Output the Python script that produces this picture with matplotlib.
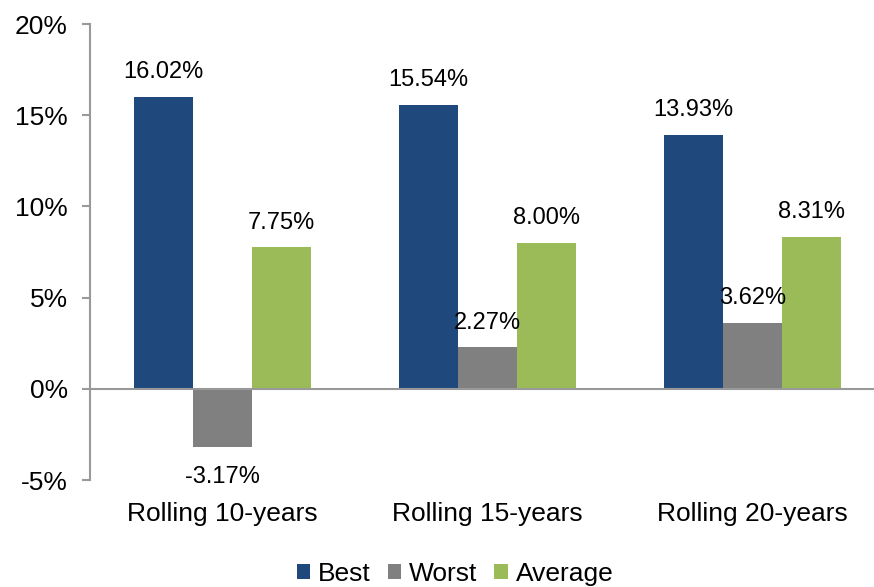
import numpy as np
import matplotlib
matplotlib.use('Agg')
import matplotlib.pyplot as plt

plt.rcParams['font.family'] = ['Liberation Sans', 'DejaVu Sans']

categories = ['Rolling 10-years', 'Rolling 15-years', 'Rolling 20-years']
best = [16.02, 15.54, 13.93]
worst = [-3.17, 2.27, 3.62]
average = [7.75, 8.00, 8.31]
yticks = [-5, 0, 5, 10, 15, 20]

colors = {'Best': '#1F497D', 'Worst': '#808080', 'Average': '#9BBB59'}
gray = '#999999'

fig = plt.figure(figsize=(8.74, 5.87), dpi=100)
ax = fig.add_axes([90/874, 107/587, 795/874, 456/587])

x = np.arange(len(categories))
w = 0.2226
series = [('Best', best), ('Worst', worst), ('Average', average)]
for i, (name, vals) in enumerate(series):
    bars = ax.bar(x + (i - 1)*w, vals, w, color=colors[name], label=name)
    for b, v in zip(bars, vals):
        xc = b.get_x() + b.get_width()/2
        if v >= 0:
            ax.annotate('%.2f%%' % v, (xc, v), xytext=(0, 10), textcoords='offset points',
                        ha='center', va='bottom', fontsize=17)
        else:
            ax.annotate('%.2f%%' % v, (xc, v), xytext=(0, -14), textcoords='offset points',
                        ha='center', va='top', fontsize=17)

ax.set_xlim(-0.5, 2.5)
ax.set_ylim(-5, 20)
ax.set_yticks(yticks)
ax.set_yticklabels(['%d%%' % t for t in yticks], fontsize=19)
ax.set_xticks(x)
ax.set_xticklabels(categories, fontsize=19)
ax.axhline(0, color=gray, lw=1.5, zorder=3)

for s in ['top', 'right', 'bottom']:
    ax.spines[s].set_visible(False)
ax.spines['left'].set_color(gray)
ax.spines['left'].set_linewidth(1.5)
ax.tick_params(axis='y', length=6, width=1.5, color=gray, pad=10)
ax.tick_params(axis='x', length=0, pad=16)

fig.legend(loc='center', bbox_to_anchor=(455/874, 13/587), ncol=3, frameon=False,
           fontsize=19, handlelength=0.5, handleheight=0.5, handletextpad=0.3,
           columnspacing=0.65)

fig.savefig('out.png', dpi=100)
